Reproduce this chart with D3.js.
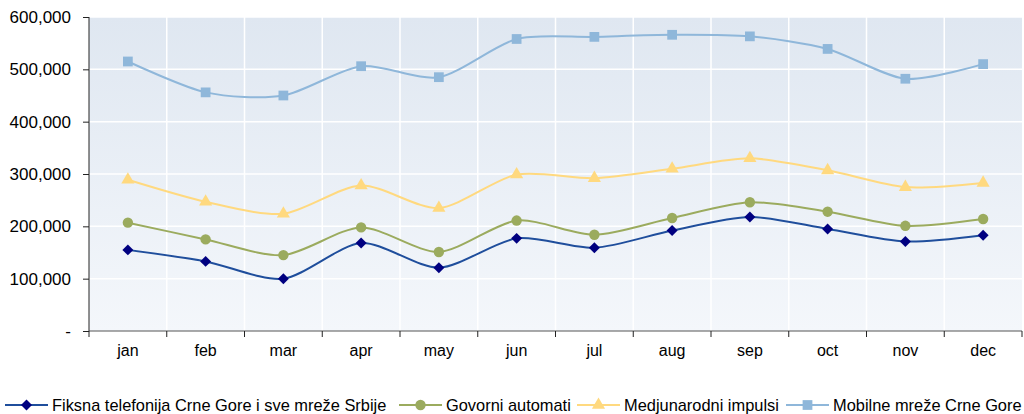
<!DOCTYPE html>
<html>
<head>
<meta charset="utf-8"/>
<script src="https://d3js.org/d3.v7.min.js"></script>
<style>
  body { margin: 0; background: #fff; }
  text { font-family: "Liberation Sans", Arial, sans-serif; fill: #000; }
</style>
</head>
<body>
<svg id="chart" width="1024" height="414"></svg>
<script>
var months = ["jan", "feb", "mar", "apr", "may", "jun", "jul", "aug", "sep", "oct", "nov", "dec"];
var fiksna = [155000, 133000, 100000, 168000, 121000, 177000, 159000, 192000, 218000, 195000, 171000, 183000];
var govorni = [207000, 175000, 145000, 198000, 151000, 211000, 184000, 216000, 246000, 228000, 201000, 214000];
var medjunarodni = [289000, 247000, 224000, 278000, 235000, 299000, 292000, 310000, 330000, 307000, 275000, 283000];
var mobilne = [515000, 456000, 450000, 506000, 485000, 558000, 562000, 566000, 563000, 539000, 482000, 510000];
var yTicks = [0, 100000, 200000, 300000, 400000, 500000, 600000];

var series = [
  {name: "Fiksna telefonija Crne Gore i sve mreže Srbije", values: fiksna, line: "#1f4e9c", fill: "#000080", shape: "diamond"},
  {name: "Govorni automati", values: govorni, line: "#9bab5e", fill: "#9bab5e", shape: "circle"},
  {name: "Medjunarodni impulsi", values: medjunarodni, line: "#ffd97f", fill: "#ffd97f", shape: "triangle"},
  {name: "Mobilne mreže Crne Gore", values: mobilne, line: "#8fb7da", fill: "#8fb7da", shape: "square"}
];

var svg = d3.select("#chart"),
    margin = {top: 17, right: 2, bottom: 83, left: 89},
    width = +svg.attr("width") - margin.left - margin.right,
    height = +svg.attr("height") - margin.top - margin.bottom;

var defs = svg.append("defs");
var grad = defs.append("linearGradient").attr("id", "bg").attr("x1", 0).attr("y1", 0).attr("x2", 0).attr("y2", 1);
grad.append("stop").attr("offset", "0%").attr("stop-color", "#dfe7f1");
grad.append("stop").attr("offset", "100%").attr("stop-color", "#f4f7fb");

var g = svg.append("g").attr("transform", "translate(" + margin.left + "," + margin.top + ")");

var x = d3.scaleBand().domain(months).range([0, width]);
var y = d3.scaleLinear().domain([0, 600000]).range([height, 0]);

g.append("rect").attr("width", width).attr("height", height).attr("fill", "url(#bg)");

// gridlines
g.append("g").selectAll("line").data(yTicks.slice(1)).enter().append("line")
    .attr("x1", 0).attr("x2", width)
    .attr("y1", function(d) { return y(d); }).attr("y2", function(d) { return y(d); })
    .attr("stroke", "#fff").attr("stroke-width", 1.5);
g.append("g").selectAll("line").data(months.slice(1)).enter().append("line")
    .attr("x1", function(d) { return x(d); }).attr("x2", function(d) { return x(d); })
    .attr("y1", 0).attr("y2", height)
    .attr("stroke", "#fff").attr("stroke-width", 1.5);

// y axis
var yAxis = g.append("g")
    .call(d3.axisLeft(y).tickValues(yTicks).tickSize(6).tickPadding(12)
      .tickFormat(function(d) { return d === 0 ? "-" : d3.format(",")(d); }));
yAxis.selectAll("text").style("font-size", "17px");
yAxis.selectAll("line, path").attr("stroke", "#222");
yAxis.select(".domain").attr("d", "M0," + height + "V0");

// x axis
var xAxis = g.append("g").attr("transform", "translate(0," + height + ")")
    .call(d3.axisBottom(x).tickSize(0).tickPadding(14));
xAxis.selectAll("text").style("font-size", "16px");
xAxis.select(".domain").attr("stroke", "#555").attr("d", "M0,0H" + width);
xAxis.append("g").selectAll("line").data(months.concat(["end"])).enter().append("line")
    .attr("x1", function(d, i) { return i * x.step(); }).attr("x2", function(d, i) { return i * x.step(); })
    .attr("y1", 0).attr("y2", 6).attr("stroke", "#222");

var line = d3.line()
    .x(function(d, i) { return x(months[i]) + x.bandwidth() / 2; })
    .y(function(d) { return y(d); })
    .curve(d3.curveCardinal.tension(0.2));

var symbols = {
  diamond: d3.symbol().type(d3.symbolSquare).size(60),
  circle: d3.symbol().type(d3.symbolCircle).size(85),
  triangle: d3.symbol().type(d3.symbolTriangle).size(75),
  square: d3.symbol().type(d3.symbolSquare).size(95)
};

series.slice().reverse().forEach(function(s) {
  g.append("path").datum(s.values)
      .attr("fill", "none").attr("stroke", s.line).attr("stroke-width", 2)
      .attr("d", line);
  g.append("g").selectAll("path").data(s.values).enter().append("path")
      .attr("d", symbols[s.shape])
      .attr("transform", function(d, i) {
        return "translate(" + (x(months[i]) + x.bandwidth() / 2) + "," + y(d) + ")" + (s.shape === "diamond" ? " rotate(45)" : "");
      })
      .attr("fill", s.fill);
});

// legend
var legendX = [5, 399, 577, 786];
var leg = svg.append("g").attr("transform", "translate(0,405)");
series.forEach(function(s, i) {
  var lg = leg.append("g").attr("transform", "translate(" + legendX[i] + ",0)");
  lg.append("line").attr("x1", 0).attr("x2", 43).attr("stroke", s.line).attr("stroke-width", 2);
  lg.append("path").attr("d", symbols[s.shape])
      .attr("transform", "translate(21.5,0)" + (s.shape === "diamond" ? " rotate(45)" : ""))
      .attr("fill", s.fill);
  lg.append("text").attr("x", 47).attr("dy", "0.35em").style("font-size", "16.4px").text(s.name);
});
</script>
</body>
</html>
